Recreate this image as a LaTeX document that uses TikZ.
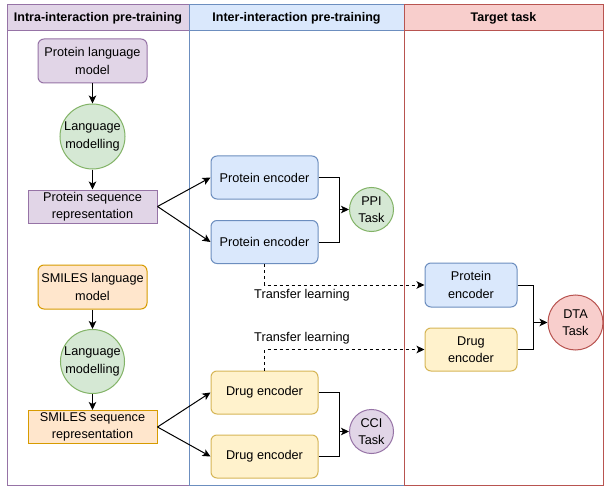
\documentclass[tikz,border=0pt]{standalone}
\usepackage{fontspec}
\setmainfont{Liberation Sans}
\usetikzlibrary{arrows.meta,positioning}
\definecolor{purF}{HTML}{E1D5E7}\definecolor{purS}{HTML}{9673A6}
\definecolor{grnF}{HTML}{D5E8D4}\definecolor{grnS}{HTML}{82B366}
\definecolor{bluF}{HTML}{DAE8FC}\definecolor{bluS}{HTML}{6C8EBF}
\definecolor{orgF}{HTML}{FFE6CC}\definecolor{orgS}{HTML}{D79B00}
\definecolor{yelF}{HTML}{FFF2CC}\definecolor{yelS}{HTML}{D6B656}
\definecolor{redF}{HTML}{F8CECC}\definecolor{redS}{HTML}{B85450}
\tikzset{
  box/.style={draw, line width=1pt, rounded corners=6pt, align=center, inner sep=0pt, font=\fontsize{12.7}{17.5}\selectfont},
  sqbox/.style={draw, line width=1pt, align=center, inner sep=0pt, font=\fontsize{12.7}{17.5}\selectfont},
  circ/.style={draw, line width=1pt, circle, align=center, inner sep=0pt, font=\fontsize{12.7}{17.5}\selectfont},
  lane/.style={line width=1pt},
  hdr/.style={font=\bfseries\fontsize{12.5}{15}\selectfont},
  arr/.style={line width=1pt, -{Stealth[length=8pt,width=7.5pt,inset=2pt]}},
  darr/.style={line width=1pt, dash pattern=on 3pt off 3pt, -{Stealth[length=8pt,width=7.5pt,inset=2pt]}},
  lbl/.style={font=\fontsize{12.7}{15}\selectfont},
}
\begin{document}
\begin{tikzpicture}[x=1pt,y=-1pt]
\useasboundingbox (0,0) rectangle (606,487);
\fill[white] (0,0) rectangle (606,487);
% lanes
\filldraw[lane, draw=purS, fill=purF] (7,5) rectangle (189,31);
\draw[lane, purS] (7,31) -- (7,485) -- (189,485);
\filldraw[lane, draw=bluS, fill=bluF] (189,5) rectangle (404,31);
\draw[lane, bluS] (189,31) -- (189,485) -- (404,485);
\filldraw[lane, draw=redS, fill=redF] (404,5) rectangle (603,31);
\draw[lane, redS] (404,31) -- (404,485) (603,31) -- (603,485) -- (404,485);
\node[hdr] (h1) at (98,18) {Intra-interaction pre-training};
\node[hdr] (h2) at (296.5,18) {Inter-interaction pre-training};
\node[hdr] (h3) at (503.5,18) {Target task};
% column 1
\node[box, fill=purF, draw=purS, minimum width=109pt, minimum height=44pt] (plm) at (92.5,61) {Protein language\\model};
\node[circ, fill=grnF, draw=grnS, minimum size=65pt] (lm1) at (92.5,136.5) {Language\\modelling};
\node[sqbox, fill=purF, draw=purS, minimum width=129pt, minimum height=33pt] (psr) at (92.5,206.5) {Protein sequence\\representation};
\node[box, fill=orgF, draw=orgS, minimum width=109pt, minimum height=44pt] (slm) at (92.5,287) {SMILES language\\model};
\node[circ, fill=grnF, draw=grnS, minimum size=64pt] (lm2) at (92.5,361.5) {Language\\modelling};
\node[sqbox, fill=orgF, draw=orgS, minimum width=129pt, minimum height=33pt] (ssr) at (92.5,427) {SMILES sequence\\representation};
% column 2
\node[box, fill=bluF, draw=bluS, minimum width=107pt, minimum height=43pt] (pe1) at (264.5,177.5) {Protein encoder};
\node[box, fill=bluF, draw=bluS, minimum width=107pt, minimum height=43pt] (pe2) at (264.5,242) {Protein encoder};
\node[circ, fill=grnF, draw=grnS, minimum size=44pt] (ppi) at (371.5,209.5) {PPI\\Task};
\node[box, fill=yelF, draw=yelS, minimum width=107pt, minimum height=43pt] (de1) at (264.5,392.5) {Drug encoder};
\node[box, fill=yelF, draw=yelS, minimum width=107pt, minimum height=43pt] (de2) at (264.5,456.5) {Drug encoder};
\node[circ, fill=purF, draw=purS, minimum size=44pt] (cci) at (371.5,431.5) {CCI\\Task};
% column 3
\node[box, fill=bluF, draw=bluS, minimum width=92pt, minimum height=44pt] (pe3) at (471,285) {Protein\\encoder};
\node[box, fill=yelF, draw=yelS, minimum width=92pt, minimum height=43pt] (de3) at (471,349.5) {Drug\\encoder};
\node[circ, fill=redF, draw=redS, minimum size=55pt] (dta) at (575.5,322.5) {DTA\\Task};
% connectors column 1
\draw[arr] (plm) -- (lm1);
\draw[arr] (lm1) -- (psr);
\draw[arr] (slm) -- (lm2);
\draw[arr] (lm2) -- (ssr);
\draw[arr] (psr.east) -- (pe1.west);
\draw[arr] (psr.east) -- (pe2.west);
\draw[arr] (ssr.east) -- (de1.west);
\draw[arr] (ssr.east) -- (de2.west);
% to tasks
\coordinate (j1) at (339,209.5);
\draw[line width=1pt] (pe1.east) -| (j1);
\draw[line width=1pt] (pe2.east) -| (j1);
\draw[arr] (j1) -- (ppi.west);
\coordinate (j2) at (339,431.5);
\draw[line width=1pt] (de1.east) -| (j2);
\draw[line width=1pt] (de2.east) -| (j2);
\draw[arr] (j2) -- (cci.west);
\coordinate (j3) at (533,322.5);
\draw[line width=1pt] (pe3.east) -| (j3);
\draw[line width=1pt] (de3.east) -| (j3);
\draw[arr] (j3) -- (dta.west);
% transfer learning
\draw[darr] (pe2.south) |- (pe3.west);
\node[lbl] (tl1) at (302,295) {Transfer learning};
\draw[darr] (de1.north) |- (de3.west);
\node[lbl] (tl2) at (302,338) {Transfer learning};
\end{tikzpicture}
\end{document}
